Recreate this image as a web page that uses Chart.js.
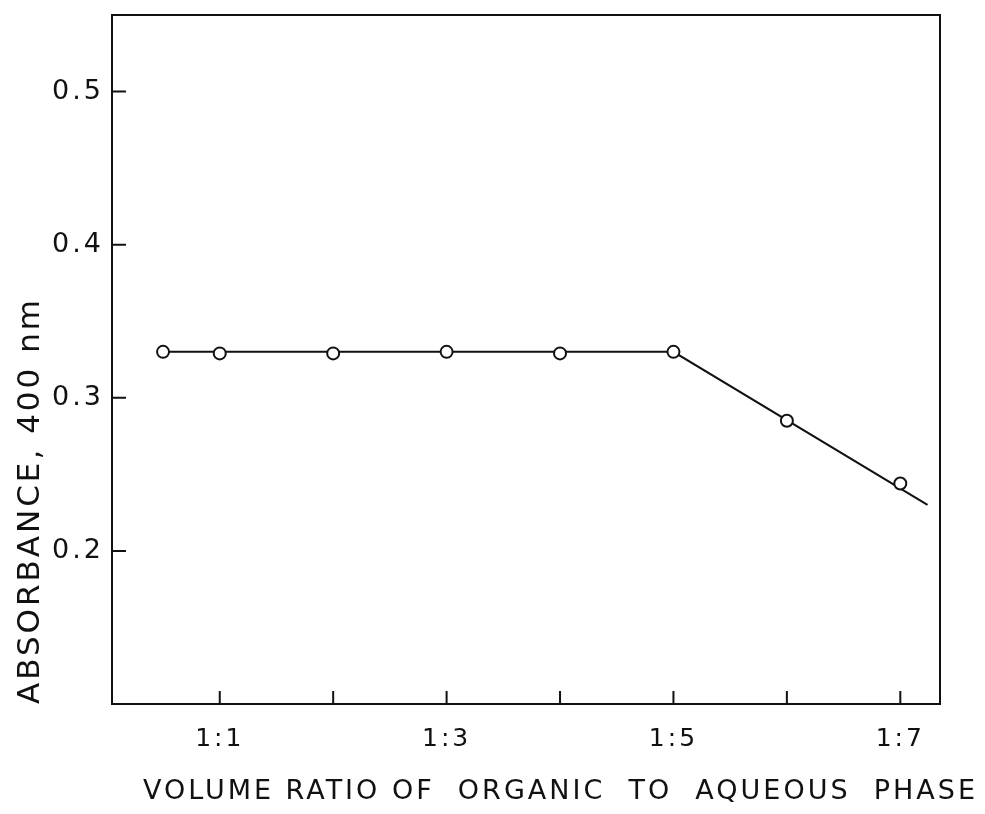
<!DOCTYPE html>
<html lang="en">
<head>
<meta charset="utf-8">
<title>Absorbance vs volume ratio</title>
<script src="https://cdn.jsdelivr.net/npm/chart.js"></script>
<style>
  html, body { margin: 0; padding: 0; background: #fff; }
  #wrap { width: 985px; height: 814px; }
</style>
</head>
<body>
<div id="wrap"><canvas id="absChart"></canvas></div>
<script>
// ratio 1:n (organic : aqueous) -> n
const ratios = [0.5, 1, 2, 3, 4, 5, 6, 7];
const absorbance = [0.330, 0.329, 0.329, 0.330, 0.329, 0.330, 0.285, 0.244];

// hand-drawn line through the points (flat part, then falling part)
const fitRatios = [0.5, 5, 7.24];
const fitAbsorbance = [0.330, 0.330, 0.230];

const xTickValues = [1, 2, 3, 4, 5, 6, 7];
const xTickLabels = ['1:1', '', '1:3', '', '1:5', '', '1:7'];
const yTickLabels = ['0.2', '0.3', '0.4', '0.5'];
const xTitle = 'VOLUME RATIO OF  ORGANIC  TO  AQUEOUS  PHASE';

const ink = '#111';
const fontFamily = "'DejaVu Sans', sans-serif";

// frame + inward tick marks + x title (it runs past the plot on the right)
const framePlugin = {
  id: 'frame',
  beforeDraw(chart) {
    chart.ctx.letterSpacing = '3px';
  },
  afterDraw(chart) {
    const { ctx, chartArea: a, scales } = chart;
    ctx.save();
    ctx.strokeStyle = ink;
    ctx.lineWidth = 2;
    ctx.strokeRect(a.left, a.top, a.right - a.left, a.bottom - a.top);
    ctx.beginPath();
    xTickValues.forEach(v => {
      const px = scales.x.getPixelForValue(v);
      ctx.moveTo(px, a.bottom);
      ctx.lineTo(px, a.bottom - 13);
    });
    yTickLabels.forEach(t => {
      const py = scales.y.getPixelForValue(parseFloat(t));
      ctx.moveTo(a.left, py);
      ctx.lineTo(a.left + 14, py);
    });
    ctx.stroke();

    ctx.fillStyle = ink;
    ctx.font = '27px ' + fontFamily;
    ctx.letterSpacing = '3px';
    ctx.textAlign = 'right';
    ctx.textBaseline = 'middle';
    ctx.fillText(xTitle, a.right + 38, a.bottom + 88);
    ctx.restore();
  }
};

const ctx = document.getElementById('absChart').getContext('2d');
new Chart(ctx, {
  type: 'scatter',
  data: {
    datasets: [
      {
        type: 'line',
        label: 'fit',
        data: fitRatios.map((x, i) => ({ x: x, y: fitAbsorbance[i] })),
        borderColor: ink,
        borderWidth: 2,
        pointRadius: 0,
        fill: false,
        tension: 0,
        order: 2
      },
      {
        label: 'absorbance',
        data: ratios.map((x, i) => ({ x: x, y: absorbance[i] })),
        pointStyle: 'circle',
        pointRadius: 6,
        pointBorderWidth: 2,
        pointBorderColor: ink,
        pointBackgroundColor: '#fff',
        order: 1
      }
    ]
  },
  options: {
    responsive: true,
    maintainAspectRatio: false,
    animation: false,
    layout: { padding: { top: 15, right: 45, left: 0, bottom: 0 } },
    plugins: {
      legend: { display: false },
      tooltip: { enabled: false }
    },
    scales: {
      x: {
        type: 'linear',
        min: 0.05,
        max: 7.35,
        afterBuildTicks: s => { s.ticks = xTickValues.map(v => ({ value: v })); },
        afterFit: s => { s.height = 110; },
        grid: { display: false, drawTicks: false },
        border: { display: false },
        ticks: {
          color: ink,
          padding: 20,
          maxRotation: 0,
          autoSkip: false,
          font: { family: fontFamily, size: 25 },
          callback: v => xTickLabels[xTickValues.indexOf(v)]
        },
        title: { display: false }
      },
      y: {
        min: 0.1,
        max: 0.55,
        afterBuildTicks: s => { s.ticks = yTickLabels.map(t => ({ value: parseFloat(t) })); },
        afterFit: s => { s.width = 112; s.paddingTop = 0; s.paddingBottom = 0; },
        grid: { display: false, drawTicks: false },
        border: { display: false },
        ticks: {
          color: ink,
          padding: 8,
          font: { family: fontFamily, size: 27 },
          callback: v => yTickLabels.find(t => parseFloat(t) === v)
        },
        title: {
          display: true,
          text: 'ABSORBANCE, 400 nm',
          color: ink,
          align: 'start',
          padding: { top: 12, bottom: 4 },
          font: { family: fontFamily, size: 31 }
        }
      }
    }
  },
  plugins: [framePlugin]
});
</script>
</body>
</html>
